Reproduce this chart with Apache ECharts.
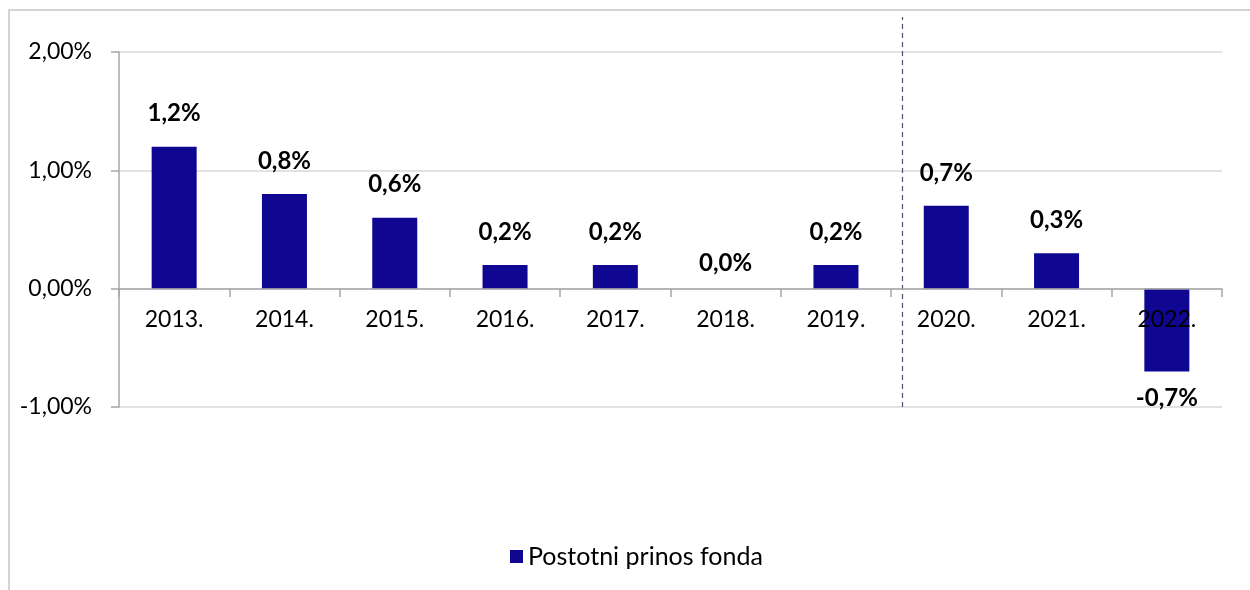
<!DOCTYPE html>
<html>
<head>
<meta charset="utf-8">
<script src="https://cdn.jsdelivr.net/npm/echarts@6/dist/echarts.min.js"></script>
<style>
html,body{margin:0;padding:0;background:#fff;}
#chart{width:1250px;height:590px;}
</style>
</head>
<body>
<div id="chart"></div>
<script>
var categories = ['2013.', '2014.', '2015.', '2016.', '2017.', '2018.', '2019.', '2020.', '2021.', '2022.'];
var returns = [1.2, 0.8, 0.6, 0.2, 0.2, 0.0, 0.2, 0.7, 0.3, -0.7];
var yTicks = [-1, 0, 1, 2];
var seriesName = 'Postotni prinos fonda';
var dividerPosition = 7.1;

var FONT = 'Lato, "Open Sans", sans-serif';
var chart = echarts.init(document.getElementById('chart'));

var barData = returns.map(function (v) {
  var item = { value: v };
  if (v < 0) item.label = { position: 'bottom', distance: 15 };
  else if (v === 0) item.label = { distance: 13 };
  return item;
});

var axisGrey = '#a6a6a6';

chart.setOption({
  animation: false,
  textStyle: { fontFamily: FONT },
  graphic: [{
    type: 'rect',
    shape: { x: 9, y: 10, width: 1300, height: 650 },
    style: { fill: 'none', stroke: '#d4d4d4', lineWidth: 2 },
    silent: true, z: -1
  }],
  legend: {
    bottom: 16,
    left: 505,
    icon: 'rect',
    itemWidth: 13,
    itemHeight: 13,
    itemGap: 8,
    textStyle: { fontSize: 25, color: '#000', fontFamily: FONT },
    data: [seriesName]
  },
  grid: [
    { left: 119, right: 28, top: 52, bottom: 183 },
    { left: 119, right: 28, top: 17, bottom: 183 },
    { left: 119, right: 28, top: 52, bottom: 301 }
  ],
  xAxis: [{
    type: 'category',
    gridIndex: 0,
    data: categories,
    axisLine: { show: false },
    axisTick: { show: false },
    axisLabel: { show: false }
  }, {
    type: 'value',
    gridIndex: 1,
    min: 0, max: categories.length,
    show: false
  }, {
    type: 'category',
    gridIndex: 2,
    data: categories,
    z: 10,
    axisLine: { show: true, onZero: false, lineStyle: { color: axisGrey, width: 1.5 } },
    axisTick: { show: true, length: 8, lineStyle: { color: axisGrey, width: 1.5 } },
    axisLabel: { fontSize: 23, color: '#000', margin: 19, fontFamily: FONT }
  }],
  yAxis: [{
    type: 'value',
    gridIndex: 0,
    min: yTicks[0],
    max: yTicks[yTicks.length - 1],
    interval: 1,
    axisLine: { show: true, lineStyle: { color: axisGrey, width: 1.5 } },
    axisTick: { show: true, length: 8, lineStyle: { color: axisGrey, width: 1.5 } },
    splitLine: { lineStyle: { color: '#d9d9d9', width: 1.5 } },
    axisLabel: {
      fontSize: 23, color: '#000', margin: 27, fontFamily: FONT,
      formatter: function (v) { return v.toFixed(2).replace('.', ',') + '%'; }
    }
  }, {
    type: 'value',
    gridIndex: 1,
    min: 0, max: 1,
    show: false
  }, {
    type: 'value',
    gridIndex: 2,
    min: 0, max: 2,
    show: false
  }],
  series: [{
    name: seriesName,
    type: 'bar',
    xAxisIndex: 0,
    yAxisIndex: 0,
    barWidth: 45,
    z: 3,
    itemStyle: { color: '#0f0691' },
    label: {
      show: true,
      position: 'top',
      distance: 21,
      fontSize: 24,
      fontWeight: 'bold',
      color: '#000',
      fontFamily: FONT,
      formatter: function (p) { return p.value.toFixed(1).replace('.', ',') + '%'; }
    },
    data: barData
  }, {
    name: 'divider',
    type: 'line',
    xAxisIndex: 1,
    yAxisIndex: 1,
    data: [],
    silent: true,
    markLine: {
      symbol: 'none',
      silent: true,
      label: { show: false },
      lineStyle: { color: '#44546a', type: [5, 4], width: 1.2 },
      data: [{ xAxis: dividerPosition }]
    }
  }]
});
</script>
</body>
</html>
